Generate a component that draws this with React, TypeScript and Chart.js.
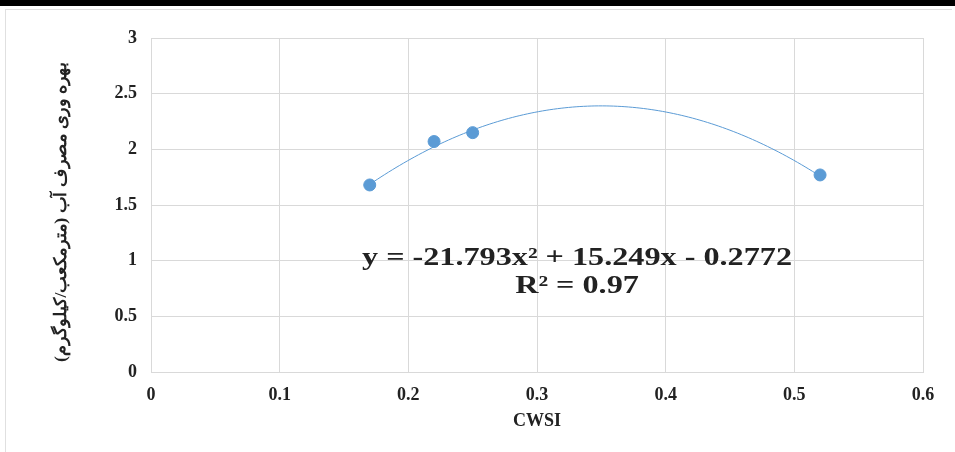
import React, { useEffect, useRef } from "react";
import { Chart, registerables } from "chart.js";

Chart.register(...registerables);

// Data
const cwsi = [0.17, 0.22, 0.25, 0.52];
const wue = [1.68, 2.07, 2.15, 1.77];
// Polynomial trendline shown on the chart: y = a x^2 + b x + c
const trendCoefs = [-21.793, 15.249, -0.2772];
const trendLabelLines = ["y = -21.793x² + 15.249x - 0.2772", "R² = 0.97"];
const xTicks = [0, 0.1, 0.2, 0.3, 0.4, 0.5, 0.6];
const yTicks = [0, 0.5, 1, 1.5, 2, 2.5, 3];
const xTitle = "CWSI";
const yTitle = "بهره وری مصرف آب (مترمکعب/کیلوگرم)";

const BLUE = "#5b9bd5";
const GRID = "#d9d9d9";
const SERIF = "'Liberation Serif', 'Times New Roman', 'DejaVu Serif', serif";

const overlayPlugin = {
  id: "overlay",
  beforeDatasetsDraw(chart: any) {
    const { ctx, scales } = chart;
    const xs = scales.x;
    const ys = scales.y;
    const x0 = Math.min(...cwsi);
    const x1 = Math.max(...cwsi);
    const [a, b, c] = trendCoefs;
    ctx.save();
    ctx.strokeStyle = BLUE;
    ctx.lineWidth = 1;
    ctx.beginPath();
    const n = 120;
    for (let i = 0; i <= n; i++) {
      const xv = x0 + ((x1 - x0) * i) / n;
      const yv = a * xv * xv + b * xv + c;
      const px = xs.getPixelForValue(xv);
      const py = ys.getPixelForValue(yv);
      if (i === 0) ctx.moveTo(px, py);
      else ctx.lineTo(px, py);
    }
    ctx.stroke();
    ctx.restore();
  },
  afterDraw(chart: any) {
    const { ctx } = chart;
    // Equation label (horizontally stretched like the reference)
    ctx.save();
    ctx.fillStyle = "#222";
    ctx.textAlign = "center";
    ctx.textBaseline = "middle";
    ctx.font = `bold 25px ${SERIF}`;
    const w = ctx.measureText(trendLabelLines[0]).width;
    const sx = 430 / w;
    ctx.translate(577, 0);
    ctx.scale(sx, 1);
    ctx.fillText(trendLabelLines[0], 0, 259);
    ctx.fillText(trendLabelLines[1], 0, 287);
    ctx.restore();
    // Y axis title (rotated)
    ctx.save();
    ctx.translate(62, 212);
    ctx.rotate(-Math.PI / 2);
    ctx.font = `bold 17px ${SERIF}`;
    ctx.fillStyle = "#222";
    ctx.direction = "rtl";
    ctx.textAlign = "center";
    ctx.textBaseline = "middle";
    const tw = ctx.measureText(yTitle).width;
    ctx.scale(300 / tw, 1);
    ctx.fillText(yTitle, 0, 0);
    ctx.restore();
  },
};

export default function App() {
  const ref = useRef<HTMLCanvasElement | null>(null);
  useEffect(() => {
    if (!ref.current) return;
    const chart = new Chart(ref.current, {
      type: "scatter",
      data: {
        datasets: [
          {
            data: cwsi.map((x, i) => ({ x, y: wue[i] })),
            backgroundColor: BLUE,
            borderColor: BLUE,
            pointRadius: 6,
            pointHoverRadius: 6,
            showLine: false,
          },
        ],
      },
      options: {
        animation: false,
        responsive: false,
        maintainAspectRatio: false,
        layout: { padding: { top: 38, right: 32, left: 0, bottom: 20 } },
        plugins: { legend: { display: false }, tooltip: { enabled: false } },
        scales: {
          x: {
            type: "linear",
            min: 0,
            max: 0.6,
            afterBuildTicks: (s: any) => {
              s.ticks = xTicks.map((v) => ({ value: v }));
            },
            afterFit: (s: any) => {
              s.height = 60;
            },
            grid: { color: GRID, drawTicks: false },
            border: { color: GRID },
            ticks: {
              padding: 13,
              color: "#222",
              font: { family: SERIF, size: 18, weight: "bold" },
              callback: (v: any) => String(v),
            },
            title: {
              display: true,
              text: xTitle,
              color: "#222",
              font: { family: SERIF, size: 18, weight: "bold" },
              padding: { top: 2, bottom: 0 },
            },
          },
          y: {
            type: "linear",
            min: 0,
            max: 3,
            afterBuildTicks: (s: any) => {
              s.ticks = yTicks.map((v) => ({ value: v }));
            },
            afterFit: (s: any) => {
              s.width = 151;
            },
            grid: { color: GRID, drawTicks: false },
            border: { color: GRID },
            ticks: {
              padding: 14,
              color: "#222",
              font: { family: SERIF, size: 18, weight: "bold" },
              callback: (v: any) => String(v),
            },
          },
        },
      },
      plugins: [overlayPlugin],
    } as any);
    return () => chart.destroy();
  }, []);
  return (
    <div
      style={{
        position: "absolute",
        left: 0,
        top: 0,
        width: 955,
        height: 452,
        background: "#fff",
        overflow: "hidden",
      }}
    >
      <div style={{ position: "absolute", left: 0, top: 0, width: 955, height: 6, background: "#000" }} />
      <div
        style={{
          position: "absolute",
          left: 5,
          top: 9,
          width: 946,
          height: 450,
          borderLeft: "1px solid #e0e0e0",
          borderTop: "1px solid #e0e0e0",
        }}
      />
      <canvas ref={ref} width={955} height={452} style={{ position: "absolute", left: 0, top: 0 }} />
    </div>
  );
}
